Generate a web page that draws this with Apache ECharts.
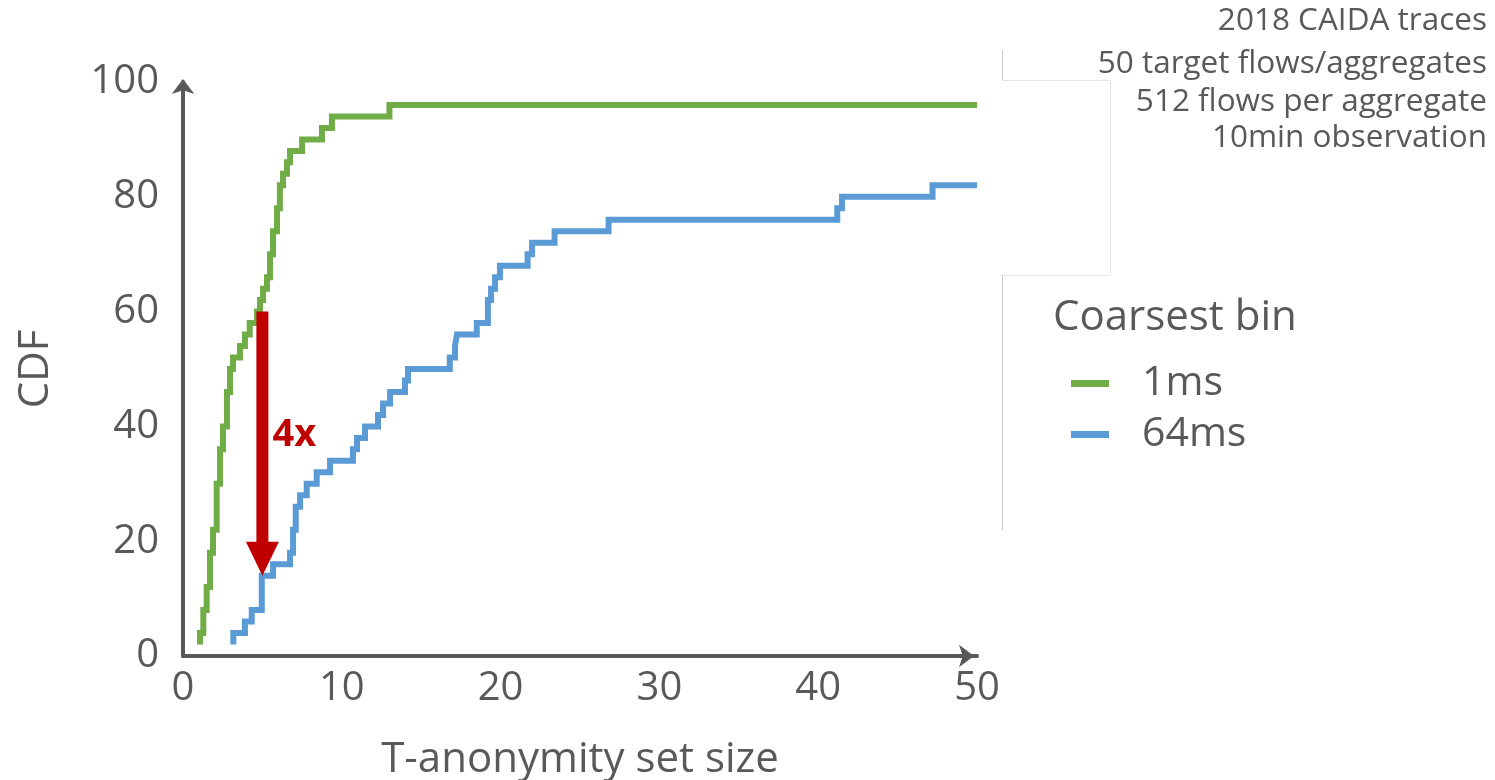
<!DOCTYPE html>
<html><head><meta charset="utf-8">
<script src="https://cdn.jsdelivr.net/npm/echarts@6/dist/echarts.min.js"></script>
<style>html,body{margin:0;padding:0;background:#fff}#c{width:1495px;height:780px}</style>
</head><body><div id="c"></div>
<script>
// ---- data ----
const seriesNames = ['1ms', '64ms'];
const ms1X = [1.07, 1.07, 1.28, 1.49, 1.70, 1.89, 2.12, 2.33, 2.52, 2.77, 2.96, 3.15, 3.59, 3.90, 4.20, 4.66, 4.85, 5.04, 5.29, 5.48, 5.67, 5.92, 6.10, 6.30, 6.55, 6.74, 7.50, 8.75, 9.38, 13.0, 50];
const ms1Y = [2, 4, 8, 12, 18, 22, 30, 36, 40, 46, 50, 52, 54, 56, 58, 60, 62, 64, 66, 70, 74, 78, 82, 84, 86, 88, 90, 92, 94, 96, 96];
const ms64X = [3.17, 3.17, 3.90, 4.33, 4.96, 5.67, 6.74, 6.93, 7.10, 7.37, 7.79, 8.42, 9.26, 10.7, 10.96, 11.46, 12.28, 12.6, 13.04, 13.98, 14.17, 16.8, 17.13, 17.25, 18.5, 19.2, 19.4, 19.65, 19.96, 21.7, 21.98, 23.4, 26.8, 41.2, 41.5, 47.2, 50];
const ms64Y = [2, 4, 6, 8, 14, 16, 18, 22, 26, 28, 30, 32, 34, 36, 38, 40, 42, 44, 46, 48, 50, 52, 54, 56, 58, 62, 64, 66, 68, 70, 72, 74, 76, 78, 80, 82, 82];
const noteLines = ['2018 CAIDA traces', '50 target flows/aggregates', '512 flows per aggregate', '10min observation'];
const legendTitle = 'Coarsest bin';
const arrowX = 5, arrowFrom = 60, arrowTo = 14, arrowLabel = '4x', arrowLabelY = 38.5;

const FONT = '"Open Sans"';
const GREY = '#595959';
const zip = (xs, ys) => xs.map((x, i) => [x, ys[i]]);

const chart = echarts.init(document.getElementById('c'), null, {renderer: 'canvas'});
const option = {
  animation: false,
  backgroundColor: '#fff',
  textStyle: {fontFamily: FONT},
  grid: {left: 183, right: 518, top: 82, bottom: 124, containLabel: false, outerBoundsMode: 'none'},
  xAxis: {
    type: 'value', min: 0, max: 50, interval: 10,
    name: 'T-anonymity set size', nameLocation: 'middle', nameGap: 82,
    nameTextStyle: {fontSize: 42, lineHeight: 44, color: GREY, fontFamily: FONT},
    axisLine: {show: true, symbol: ['none', 'arrow'], symbolSize: [17, 15], symbolOffset: [0, -3], lineStyle: {color: GREY, width: 4}},
    axisTick: {show: false}, splitLine: {show: false},
    axisLabel: {fontSize: 40, color: GREY, margin: 13, fontFamily: FONT}
  },
  yAxis: {
    type: 'value', min: 0, max: 100, interval: 20,
    name: 'CDF', nameLocation: 'middle', nameGap: 126,
    nameTextStyle: {fontSize: 42, color: GREY, fontFamily: FONT},
    axisLine: {show: true, symbol: ['none', 'arrow'], symbolSize: [17, 15], symbolOffset: [0, 3], lineStyle: {color: GREY, width: 4}},
    axisTick: {show: false}, splitLine: {show: false},
    axisLabel: {fontSize: 40, color: GREY, margin: 24, fontFamily: FONT}
  },
  legend: {
    orient: 'vertical', left: 1071, top: 363, padding: 0, itemGap: 10,
    itemWidth: 38, itemHeight: 7, icon: 'rect',
    textStyle: {fontSize: 41, lineHeight: 41, color: GREY, fontFamily: FONT, padding: [0, 0, 0, 28]},
    data: seriesNames
  },
  series: [
    {name: seriesNames[0], type: 'line', step: 'end', showSymbol: false, color: '#70AD47',
     lineStyle: {width: 6, color: '#70AD47', join: 'miter', cap: 'butt'}, data: zip(ms1X, ms1Y)},
    {name: seriesNames[1], type: 'line', step: 'end', showSymbol: false, color: '#5B9BD5',
     lineStyle: {width: 6, color: '#5B9BD5', join: 'miter', cap: 'butt'}, data: zip(ms64X, ms64Y)}
  ]
};
chart.setOption(option);

const pTop = chart.convertToPixel({gridIndex: 0}, [arrowX, arrowFrom]);
const pTip = chart.convertToPixel({gridIndex: 0}, [arrowX, arrowTo]);
const pLab = chart.convertToPixel({gridIndex: 0}, [arrowX, arrowLabelY]);
const headH = 34, headW = 33, shaftW = 12;
const RED = '#C00000';
const faint = '#e6e6e6', mid = '#c8c8c8';
const graphics = [
  {type: 'rect', shape: {x: pTop[0] - shaftW / 2, y: pTop[1], width: shaftW, height: pTip[1] - headH - pTop[1] + 1}, style: {fill: RED}, z: 10},
  {type: 'polygon', shape: {points: [[pTip[0] - headW / 2, pTip[1] - headH], [pTip[0] + headW / 2, pTip[1] - headH], [pTip[0], pTip[1]]]}, style: {fill: RED}, z: 10},
  {type: 'text', x: pLab[0] + 10, y: pLab[1], style: {text: arrowLabel, fill: RED, font: 'bold 38px ' + FONT, textAlign: 'left', textVerticalAlign: 'middle'}, z: 10},
  {type: 'text', x: 1053, y: 318, style: {text: legendTitle, fill: GREY, font: '42px ' + FONT, textAlign: 'left', textVerticalAlign: 'middle'}},
  // faint frame remnants
  {type: 'line', shape: {x1: 1002.5, y1: 50, x2: 1002.5, y2: 80}, style: {stroke: mid, lineWidth: 1}},
  {type: 'line', shape: {x1: 1002, y1: 80.5, x2: 1110, y2: 80.5}, style: {stroke: faint, lineWidth: 1}},
  {type: 'line', shape: {x1: 1110.5, y1: 80, x2: 1110.5, y2: 275}, style: {stroke: faint, lineWidth: 1}},
  {type: 'line', shape: {x1: 1002, y1: 275.5, x2: 1110, y2: 275.5}, style: {stroke: faint, lineWidth: 1}},
  {type: 'line', shape: {x1: 1002.5, y1: 275, x2: 1002.5, y2: 530}, style: {stroke: mid, lineWidth: 1}}
];
const noteY = [21, 64, 102, 138];
noteLines.forEach((t, i) => graphics.push({type: 'text', x: 1487, y: noteY[i], style: {text: t, fill: GREY, font: '31.5px ' + FONT, textAlign: 'right', textVerticalAlign: 'middle'}}));
chart.setOption({graphic: graphics});
</script></body></html>
